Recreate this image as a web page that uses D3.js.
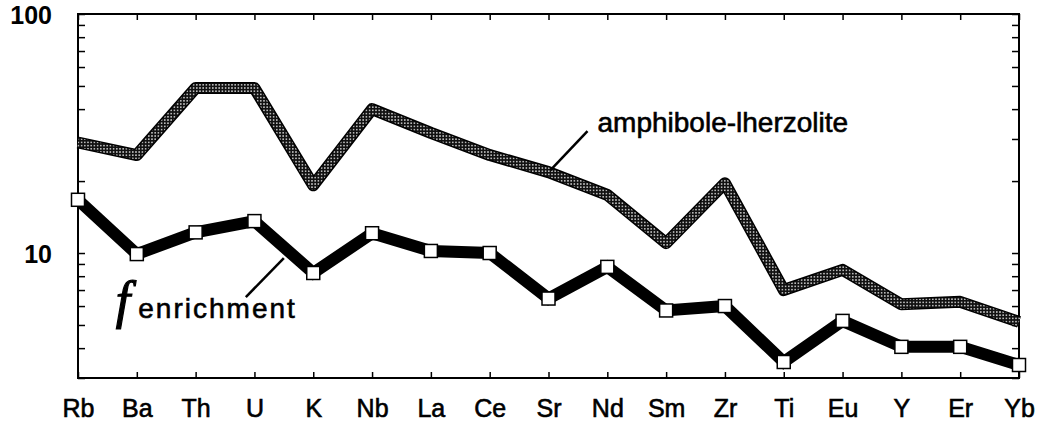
<!DOCTYPE html>
<html>
<head>
<meta charset="utf-8">
<script src="https://d3js.org/d3.v7.min.js"></script>
<style>
    html, body {
        margin: 0;
        padding: 0;
        background-color: white;
    }
    text {
        font-family: "Liberation Sans", Arial, Helvetica, sans-serif;
        fill: black;
    }
    .heavy {
        stroke: black;
        stroke-width: 0.6px;
    }
    .axis line, .axis path {
        stroke: black;
        stroke-width: 1.5;
    }
</style>
</head>
<body>
<script>

    // DATA
    const categories = ["Rb", "Ba", "Th", "U", "K", "Nb", "La", "Ce", "Sr",
                        "Nd", "Sm", "Zr", "Ti", "Eu", "Y", "Er", "Yb"];
    const amphibole  = [29, 25.7, 49, 49, 19.2, 40, 31.8, 25.7, 21.8,
                        17.5, 11.0, 19.6, 7.0, 8.5, 6.1, 6.25, 5.15];
    const enrichment = [16.7, 9.9, 12.2, 13.6, 8.25, 12.1, 10.2, 10.0, 6.45,
                        8.75, 5.75, 6.0, 3.5, 5.2, 4.05, 4.05, 3.4];
    const yLabels    = [10, 100];
    const yMinor     = [3, 4, 5, 6, 7, 8, 9, 10, 20, 30, 40, 50, 60, 70, 80, 90, 100];

    // DESIGN CONSTANTS
    const width  = 1041;
    const height = 423;
    const PLOT_L = 78, PLOT_R = 1019, PLOT_T = 14, PLOT_B = 378;

    const svg = d3.select("body").append("svg")
        .attr("width", width)
        .attr("height", height);

    // dotted pattern for the amphibole-lherzolite line
    const defs = svg.append("defs");
    const pat = defs.append("pattern")
        .attr("id", "dots")
        .attr("patternUnits", "userSpaceOnUse")
        .attr("width", 3.2)
        .attr("height", 3.2);
    pat.append("rect").attr("width", 3.2).attr("height", 3.2).attr("fill", "#111");
    pat.append("circle").attr("cx", 1.6).attr("cy", 1.6).attr("r", 0.75).attr("fill", "white");

    // scales
    const x = d3.scalePoint().domain(categories).range([PLOT_L, PLOT_R]);
    const y = d3.scaleLog().domain([3, 100]).range([PLOT_B, PLOT_T]);

    // frame
    svg.append("rect")
        .attr("x", PLOT_L).attr("y", PLOT_T)
        .attr("width", PLOT_R - PLOT_L).attr("height", PLOT_B - PLOT_T)
        .attr("fill", "none").attr("stroke", "black").attr("stroke-width", 2);

    // log ticks, left and right (pointing inward)
    svg.append("g").attr("class", "axis")
        .attr("transform", `translate(${PLOT_L},0)`)
        .call(d3.axisRight(y).tickValues(yMinor).tickSize(7).tickFormat(""))
        .select(".domain").remove();
    svg.append("g").attr("class", "axis")
        .attr("transform", `translate(${PLOT_R},0)`)
        .call(d3.axisLeft(y).tickValues(yMinor).tickSize(7).tickFormat(""))
        .select(".domain").remove();

    // category ticks, bottom and top
    svg.append("g").attr("class", "axis")
        .attr("transform", `translate(0,${PLOT_B})`)
        .call(d3.axisTop(x).tickSize(6).tickFormat(""))
        .select(".domain").remove();
    svg.append("g").attr("class", "axis")
        .attr("transform", `translate(0,${PLOT_T})`)
        .call(d3.axisBottom(x).tickSize(6).tickFormat(""))
        .select(".domain").remove();

    // category labels
    const xl = svg.append("g")
        .attr("transform", `translate(0,${PLOT_B})`)
        .call(d3.axisBottom(x).tickSize(0).tickPadding(21));
    xl.select(".domain").remove();
    xl.selectAll("text")
        .attr("class", "heavy")
        .style("font-family", '"Liberation Sans", Arial, sans-serif')
        .style("font-size", "25px")
        .attr("fill", "black");

    // y labels
    svg.selectAll(".ylab")
        .data(yLabels)
        .enter().append("text")
        .attr("class", "ylab")
        .attr("x", 52)
        .attr("y", d => y(d) + 10)
        .attr("text-anchor", "end")
        .style("font-size", "25px")
        .style("font-weight", "bold")
        .text(d => d);

    const line = d3.line()
        .x((d, i) => x(categories[i]))
        .y(d => y(d));

    // amphibole-lherzolite line: dark edge + dotted body
    svg.append("path")
        .attr("d", line(amphibole))
        .attr("fill", "none")
        .attr("stroke", "black")
        .attr("stroke-width", 12)
        .attr("stroke-linejoin", "round");
    svg.append("path")
        .attr("d", line(amphibole))
        .attr("fill", "none")
        .attr("stroke", "url(#dots)")
        .attr("stroke-width", 9)
        .attr("stroke-linejoin", "round");

    // enrichment line
    svg.append("path")
        .attr("d", line(enrichment))
        .attr("fill", "none")
        .attr("stroke", "black")
        .attr("stroke-width", 12)
        .attr("stroke-linejoin", "miter");

    const sq = 13;
    svg.selectAll(".sq")
        .data(enrichment)
        .enter().append("rect")
        .attr("class", "sq")
        .attr("x", (d, i) => x(categories[i]) - sq / 2)
        .attr("y", d => y(d) - sq / 2)
        .attr("width", sq)
        .attr("height", sq)
        .attr("fill", "white")
        .attr("stroke", "black")
        .attr("stroke-width", 1.5);

    // annotations
    const ax = x("Sr") + 2, ay = y(amphibole[8]) - 2;
    svg.append("line")
        .attr("x1", ax).attr("y1", ay)
        .attr("x2", ax + 37).attr("y2", ay - 39)
        .attr("stroke", "black").attr("stroke-width", 2.5);
    svg.append("text")
        .attr("class", "heavy")
        .attr("x", ax + 47).attr("y", ay - 38)
        .style("font-size", "28px")
        .text("amphibole-lherzolite");

    const ex = (x("U") + x("K")) / 2, ey = y(Math.sqrt(enrichment[3] * enrichment[4])) + 11;
    svg.append("line")
        .attr("x1", ex).attr("y1", ey)
        .attr("x2", ex - 38).attr("y2", ey + 39)
        .attr("stroke", "black").attr("stroke-width", 2.5);
    const et = svg.append("text")
        .attr("x", ex - 168).attr("y", ey + 60);
    et.append("tspan")
        .style("font-family", '"Liberation Serif", "DejaVu Serif", serif')
        .style("font-style", "italic")
        .style("font-size", "52px")
        .style("stroke", "black")
        .style("stroke-width", "1.2px")
        .text("f");
    et.append("tspan")
        .attr("class", "heavy")
        .attr("dx", 8)
        .style("font-size", "28px")
        .style("letter-spacing", "2px")
        .text("enrichment");

</script>
</body>
</html>
